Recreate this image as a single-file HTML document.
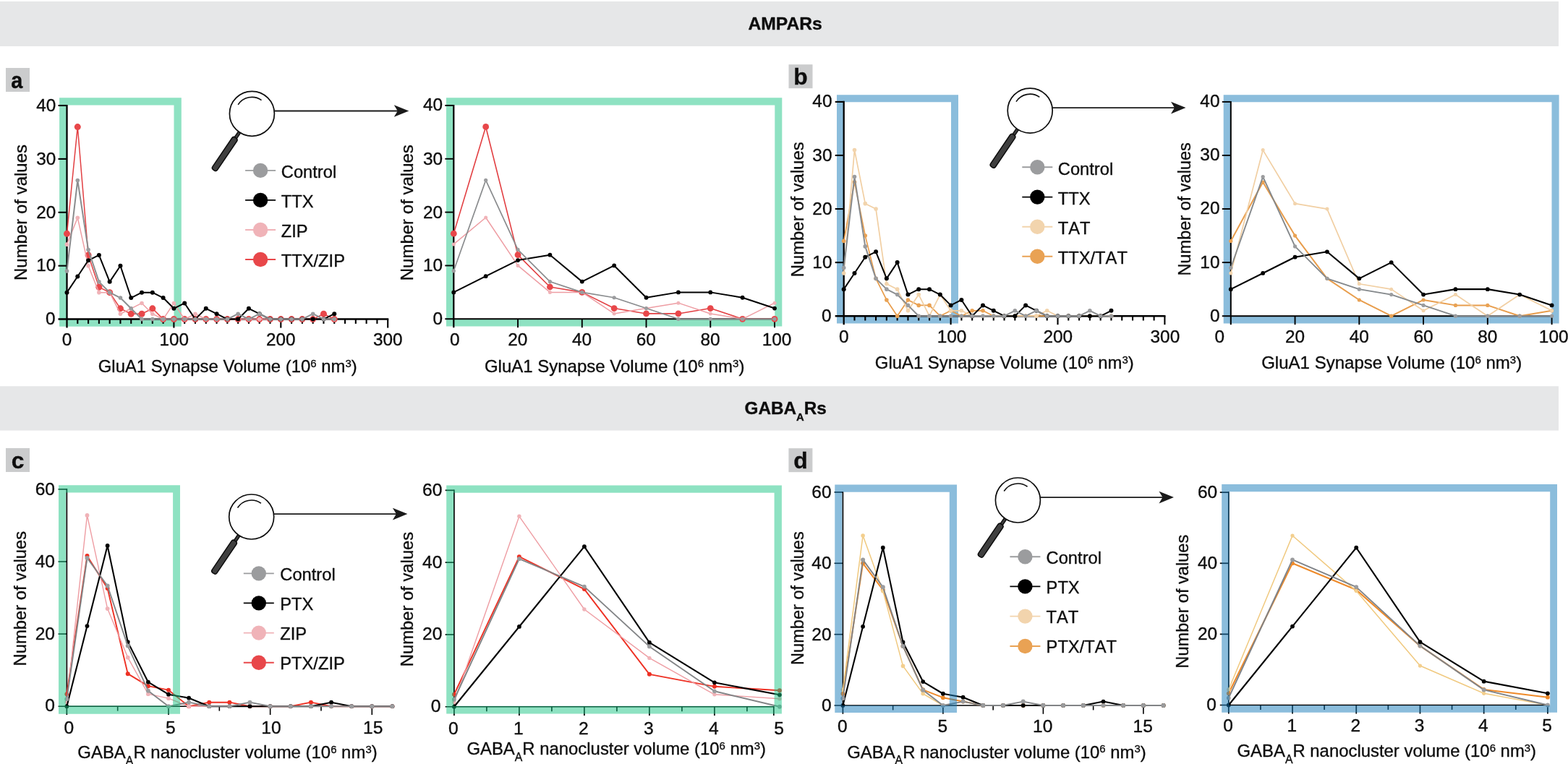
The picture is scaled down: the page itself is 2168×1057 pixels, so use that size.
<!DOCTYPE html>
<html lang="en">
<head>
<meta charset="utf-8">
<title>AMPARs and GABAARs volume distributions</title>
<style>
html,body{margin:0;padding:0;background:#fff;}
body{width:2168px;height:1057px;overflow:hidden;}
svg{display:block;font-family:'Liberation Sans', sans-serif;}
svg text{fill:#0d0d0d;stroke:#0d0d0d;stroke-width:0.35px;stroke-linejoin:round;}
</style>
</head>
<body>
<svg width="2168" height="1057" viewBox="0 0 2168 1057" font-family="'Liberation Sans', sans-serif">
<rect x="0" y="0" width="2168" height="1057" fill="#fff"/>
<rect x="0" y="2" width="2155" height="62" fill="#e6e7e8"/>
<rect x="0" y="534.3" width="2155" height="61.3" fill="#e6e7e8"/>
<text x="1085.6" y="41.4" font-size="24.7" font-weight="bold" text-anchor="middle" fill="#000">AMPARs</text>
<text x="1086.2" y="572.8" font-size="24.3" font-weight="bold" text-anchor="middle" fill="#000">GABA<tspan font-size="14.8" dy="8.7">A</tspan><tspan dy="-8.7">Rs</tspan></text>
<rect x="8" y="94" width="33" height="33" fill="#cbcccd"/>
<text transform="translate(23.4,121.8) scale(0.91,1)" font-size="31.8" font-weight="bold" text-anchor="middle" fill="#0a0a0a" stroke="#0a0a0a" stroke-width="0.3">a</text>
<rect x="1090.5" y="89.2" width="33" height="33" fill="#cbcccd"/>
<text transform="translate(1107,117) scale(1.0,1)" font-size="31.8" font-weight="bold" text-anchor="middle" fill="#0a0a0a" stroke="#0a0a0a" stroke-width="0.3">b</text>
<rect x="8" y="620" width="33" height="33" fill="#cbcccd"/>
<text transform="translate(24.5,647.8) scale(1.0,1)" font-size="31.8" font-weight="bold" text-anchor="middle" fill="#0a0a0a" stroke="#0a0a0a" stroke-width="0.3">c</text>
<rect x="1090.4" y="620.2" width="33" height="33" fill="#cbcccd"/>
<text transform="translate(1106.9,648) scale(1.0,1)" font-size="31.8" font-weight="bold" text-anchor="middle" fill="#0a0a0a" stroke="#0a0a0a" stroke-width="0.3">d</text>
<path d="M82.1,135.3H250.8V451.8H82.1ZM92,145.5V441.6H240.5V145.5Z" fill="#8ee2c2" fill-rule="evenodd"/>
<g stroke="#000"><line x1="92.5" y1="144.95" x2="92.5" y2="453.6" stroke-width="2.3"/><line x1="80.5" y1="441.6" x2="537.25" y2="441.6" stroke-width="2.5"/><line x1="80.5" y1="367.7" x2="92.5" y2="367.7" stroke-width="2.1"/><line x1="80.5" y1="293.8" x2="92.5" y2="293.8" stroke-width="2.1"/><line x1="80.5" y1="219.9" x2="92.5" y2="219.9" stroke-width="2.1"/><line x1="80.5" y1="146" x2="92.5" y2="146" stroke-width="2.1"/><line x1="240.4" y1="441.6" x2="240.4" y2="453.6" stroke-width="2.1"/><line x1="388.3" y1="441.6" x2="388.3" y2="453.6" stroke-width="2.1"/><line x1="536.2" y1="441.6" x2="536.2" y2="453.6" stroke-width="2.1"/><line x1="107.29" y1="441.6" x2="107.29" y2="447.9" stroke-width="2.1"/><line x1="122.08" y1="441.6" x2="122.08" y2="447.9" stroke-width="2.1"/><line x1="136.87" y1="441.6" x2="136.87" y2="447.9" stroke-width="2.1"/><line x1="151.66" y1="441.6" x2="151.66" y2="447.9" stroke-width="2.1"/><line x1="166.45" y1="441.6" x2="166.45" y2="447.9" stroke-width="2.1"/><line x1="181.24" y1="441.6" x2="181.24" y2="447.9" stroke-width="2.1"/><line x1="196.03" y1="441.6" x2="196.03" y2="447.9" stroke-width="2.1"/><line x1="210.82" y1="441.6" x2="210.82" y2="447.9" stroke-width="2.1"/><line x1="225.61" y1="441.6" x2="225.61" y2="447.9" stroke-width="2.1"/><line x1="255.19" y1="441.6" x2="255.19" y2="447.9" stroke-width="2.1"/><line x1="269.98" y1="441.6" x2="269.98" y2="447.9" stroke-width="2.1"/><line x1="284.77" y1="441.6" x2="284.77" y2="447.9" stroke-width="2.1"/><line x1="299.56" y1="441.6" x2="299.56" y2="447.9" stroke-width="2.1"/><line x1="314.35" y1="441.6" x2="314.35" y2="447.9" stroke-width="2.1"/><line x1="329.14" y1="441.6" x2="329.14" y2="447.9" stroke-width="2.1"/><line x1="343.93" y1="441.6" x2="343.93" y2="447.9" stroke-width="2.1"/><line x1="358.72" y1="441.6" x2="358.72" y2="447.9" stroke-width="2.1"/><line x1="373.51" y1="441.6" x2="373.51" y2="447.9" stroke-width="2.1"/><line x1="403.09" y1="441.6" x2="403.09" y2="447.9" stroke-width="2.1"/><line x1="417.88" y1="441.6" x2="417.88" y2="447.9" stroke-width="2.1"/><line x1="432.67" y1="441.6" x2="432.67" y2="447.9" stroke-width="2.1"/><line x1="447.46" y1="441.6" x2="447.46" y2="447.9" stroke-width="2.1"/><line x1="462.25" y1="441.6" x2="462.25" y2="447.9" stroke-width="2.1"/><line x1="477.04" y1="441.6" x2="477.04" y2="447.9" stroke-width="2.1"/><line x1="491.83" y1="441.6" x2="491.83" y2="447.9" stroke-width="2.1"/><line x1="506.62" y1="441.6" x2="506.62" y2="447.9" stroke-width="2.1"/><line x1="521.41" y1="441.6" x2="521.41" y2="447.9" stroke-width="2.1"/></g>
<polyline points="92.5,323.36 107.29,175.56 122.08,352.92 136.87,397.26 151.66,404.65 166.45,426.82 181.24,434.21 196.03,434.21 210.82,426.82 225.61,441.6 240.4,441.6 255.19,441.6 269.98,441.6 284.77,441.6 299.56,441.6 314.35,441.6 329.14,441.6 343.93,441.6 358.72,441.6 373.51,441.6 388.3,441.6 403.09,441.6 417.88,441.6 432.67,441.6 447.46,434.21 462.25,441.6" fill="none" stroke="#e23f42" stroke-width="1.5" stroke-linejoin="round"/>
<g fill="#e8474a"><circle cx="92.5" cy="323.36" r="4.5"/><circle cx="107.29" cy="175.56" r="4.5"/><circle cx="122.08" cy="352.92" r="4.5"/><circle cx="136.87" cy="397.26" r="4.5"/><circle cx="151.66" cy="404.65" r="4.5"/><circle cx="166.45" cy="426.82" r="4.5"/><circle cx="181.24" cy="434.21" r="4.5"/><circle cx="196.03" cy="434.21" r="4.5"/><circle cx="210.82" cy="426.82" r="4.5"/><circle cx="225.61" cy="441.6" r="4.5"/><circle cx="240.4" cy="441.6" r="4.5"/><circle cx="255.19" cy="441.6" r="4.5"/><circle cx="269.98" cy="441.6" r="4.5"/><circle cx="284.77" cy="441.6" r="4.5"/><circle cx="299.56" cy="441.6" r="4.5"/><circle cx="314.35" cy="441.6" r="4.5"/><circle cx="329.14" cy="441.6" r="4.5"/><circle cx="343.93" cy="441.6" r="4.5"/><circle cx="358.72" cy="441.6" r="4.5"/><circle cx="373.51" cy="441.6" r="4.5"/><circle cx="388.3" cy="441.6" r="4.5"/><circle cx="403.09" cy="441.6" r="4.5"/><circle cx="417.88" cy="441.6" r="4.5"/><circle cx="432.67" cy="441.6" r="4.5"/><circle cx="447.46" cy="434.21" r="4.5"/><circle cx="462.25" cy="441.6" r="4.5"/></g>
<polyline points="92.5,338.14 107.29,301.19 122.08,367.7 136.87,404.65 151.66,404.65 166.45,434.21 181.24,426.82 196.03,419.43 210.82,434.21 225.61,441.6 240.4,419.43 255.19,441.6 269.98,434.21 284.77,441.6 299.56,441.6 314.35,441.6 329.14,441.6 343.93,441.6 358.72,441.6 373.51,441.6 388.3,441.6 403.09,441.6 417.88,441.6 432.67,441.6 447.46,441.6 462.25,441.6" fill="none" stroke="#ee9da3" stroke-width="1.5" stroke-linejoin="round"/>
<g fill="#f0b3b8"><circle cx="92.5" cy="338.14" r="2.8"/><circle cx="107.29" cy="301.19" r="2.8"/><circle cx="122.08" cy="367.7" r="2.8"/><circle cx="136.87" cy="404.65" r="2.8"/><circle cx="151.66" cy="404.65" r="2.8"/><circle cx="166.45" cy="434.21" r="2.8"/><circle cx="181.24" cy="426.82" r="2.8"/><circle cx="196.03" cy="419.43" r="2.8"/><circle cx="210.82" cy="434.21" r="2.8"/><circle cx="225.61" cy="441.6" r="2.8"/><circle cx="240.4" cy="419.43" r="2.8"/><circle cx="255.19" cy="441.6" r="2.8"/><circle cx="269.98" cy="434.21" r="2.8"/><circle cx="284.77" cy="441.6" r="2.8"/><circle cx="299.56" cy="441.6" r="2.8"/><circle cx="314.35" cy="441.6" r="2.8"/><circle cx="329.14" cy="441.6" r="2.8"/><circle cx="343.93" cy="441.6" r="2.8"/><circle cx="358.72" cy="441.6" r="2.8"/><circle cx="373.51" cy="441.6" r="2.8"/><circle cx="388.3" cy="441.6" r="2.8"/><circle cx="403.09" cy="441.6" r="2.8"/><circle cx="417.88" cy="441.6" r="2.8"/><circle cx="432.67" cy="441.6" r="2.8"/><circle cx="447.46" cy="441.6" r="2.8"/><circle cx="462.25" cy="441.6" r="2.8"/></g>
<polyline points="92.5,404.65 107.29,382.48 122.08,360.31 136.87,352.92 151.66,389.87 166.45,367.7 181.24,412.04 196.03,404.65 210.82,404.65 225.61,412.04 240.4,426.82 255.19,419.43 269.98,441.6 284.77,426.82 299.56,434.21 314.35,441.6 329.14,441.6 343.93,426.82 358.72,434.21 373.51,441.6 388.3,441.6 403.09,441.6 417.88,441.6 432.67,441.6 447.46,441.6 462.25,434.21" fill="none" stroke="#000000" stroke-width="2.0" stroke-linejoin="round"/>
<g fill="#000000"><circle cx="92.5" cy="404.65" r="3.0"/><circle cx="107.29" cy="382.48" r="3.0"/><circle cx="122.08" cy="360.31" r="3.0"/><circle cx="136.87" cy="352.92" r="3.0"/><circle cx="151.66" cy="389.87" r="3.0"/><circle cx="166.45" cy="367.7" r="3.0"/><circle cx="181.24" cy="412.04" r="3.0"/><circle cx="196.03" cy="404.65" r="3.0"/><circle cx="210.82" cy="404.65" r="3.0"/><circle cx="225.61" cy="412.04" r="3.0"/><circle cx="240.4" cy="426.82" r="3.0"/><circle cx="255.19" cy="419.43" r="3.0"/><circle cx="269.98" cy="441.6" r="3.0"/><circle cx="284.77" cy="426.82" r="3.0"/><circle cx="299.56" cy="434.21" r="3.0"/><circle cx="314.35" cy="441.6" r="3.0"/><circle cx="329.14" cy="441.6" r="3.0"/><circle cx="343.93" cy="426.82" r="3.0"/><circle cx="358.72" cy="434.21" r="3.0"/><circle cx="373.51" cy="441.6" r="3.0"/><circle cx="388.3" cy="441.6" r="3.0"/><circle cx="403.09" cy="441.6" r="3.0"/><circle cx="417.88" cy="441.6" r="3.0"/><circle cx="432.67" cy="441.6" r="3.0"/><circle cx="447.46" cy="441.6" r="3.0"/><circle cx="462.25" cy="434.21" r="3.0"/></g>
<polyline points="92.5,375.09 107.29,249.46 122.08,345.53 136.87,389.87 151.66,404.65 166.45,412.04 181.24,426.82 196.03,441.6 210.82,441.6 225.61,441.6 240.4,441.6 255.19,441.6 269.98,441.6 284.77,441.6 299.56,441.6 314.35,441.6 329.14,434.21 343.93,441.6 358.72,434.21 373.51,441.6 388.3,441.6 403.09,441.6 417.88,441.6 432.67,434.21 447.46,441.6 462.25,441.6" fill="none" stroke="#8a8c8e" stroke-width="2.0" stroke-linejoin="round"/>
<g fill="#9b9c9e"><circle cx="92.5" cy="375.09" r="2.8"/><circle cx="107.29" cy="249.46" r="2.8"/><circle cx="122.08" cy="345.53" r="2.8"/><circle cx="136.87" cy="389.87" r="2.8"/><circle cx="151.66" cy="404.65" r="2.8"/><circle cx="166.45" cy="412.04" r="2.8"/><circle cx="181.24" cy="426.82" r="2.8"/><circle cx="196.03" cy="441.6" r="2.8"/><circle cx="210.82" cy="441.6" r="2.8"/><circle cx="225.61" cy="441.6" r="2.8"/><circle cx="240.4" cy="441.6" r="2.8"/><circle cx="255.19" cy="441.6" r="2.8"/><circle cx="269.98" cy="441.6" r="2.8"/><circle cx="284.77" cy="441.6" r="2.8"/><circle cx="299.56" cy="441.6" r="2.8"/><circle cx="314.35" cy="441.6" r="2.8"/><circle cx="329.14" cy="434.21" r="2.8"/><circle cx="343.93" cy="441.6" r="2.8"/><circle cx="358.72" cy="434.21" r="2.8"/><circle cx="373.51" cy="441.6" r="2.8"/><circle cx="388.3" cy="441.6" r="2.8"/><circle cx="403.09" cy="441.6" r="2.8"/><circle cx="417.88" cy="441.6" r="2.8"/><circle cx="432.67" cy="434.21" r="2.8"/><circle cx="447.46" cy="441.6" r="2.8"/><circle cx="462.25" cy="441.6" r="2.8"/></g>
<g font-size="24.3"><text x="76.4" y="449.3" text-anchor="end">0</text><text x="77.2" y="375.4" text-anchor="end">10</text><text x="77.2" y="301.5" text-anchor="end">20</text><text x="77.2" y="227.6" text-anchor="end">30</text><text x="77.2" y="153.7" text-anchor="end">40</text><text x="92.5" y="478.2" text-anchor="middle">0</text><text x="240.8" y="478.2" text-anchor="middle">100</text><text x="388.3" y="478.2" text-anchor="middle">200</text><text x="536.2" y="478.2" text-anchor="middle">300</text></g>
<text transform="translate(36.8,294) rotate(-90)" font-size="24" text-anchor="middle">Number of values</text>
<text x="314.7" y="515" font-size="23.9" text-anchor="middle">GluA1 Synapse Volume (10<tspan font-size="14.94" dy="-7.17">6</tspan><tspan dy="7.17"> nm</tspan><tspan font-size="14.94" dy="-7.17">3</tspan><tspan dy="7.17">)</tspan></text>
<g transform="translate(348.4,157.3) rotate(124.1)"><rect x="30" y="-1.9" width="11" height="3.8" fill="#3d3d3d" stroke="#0c0c0c" stroke-width="1.3"/><rect x="40.2" y="-4.05" width="54" height="8.1" rx="3.2" ry="3.2" fill="#3f3f3f" stroke="#0c0c0c" stroke-width="1.5"/></g>
<circle cx="348.4" cy="157.3" r="31" fill="#fff" stroke="#0c0c0c" stroke-width="1.7"/>
<path d="M329.19,144.83 A22.9,22.9 0 0 1 361.53,138.54" fill="none" stroke="#0c0c0c" stroke-width="1.6"/>
<line x1="379.4" y1="153.5" x2="551.3" y2="153.5" stroke="#1a1a1a" stroke-width="1.8"/>
<path d="M565.3,153.5 L544.8,145.2 L549.8,153.5 L544.8,161.8 Z" fill="#1a1a1a"/>
<line x1="339.1" y1="235.9" x2="381.1" y2="235.9" stroke="#9b9c9e" stroke-width="1.9"/>
<circle cx="360.1" cy="235.9" r="10.2" fill="#9b9c9e"/>
<text x="388.8" y="246.38" font-size="23.7" style="font-kerning:none">Control</text>
<line x1="339.1" y1="276.9" x2="381.1" y2="276.9" stroke="#000000" stroke-width="1.9"/>
<circle cx="360.1" cy="276.9" r="10.2" fill="#000000"/>
<text x="388.8" y="287.38" font-size="23.7" style="font-kerning:none">TTX</text>
<line x1="339.1" y1="318" x2="381.1" y2="318" stroke="#f0b3b8" stroke-width="1.9"/>
<circle cx="360.1" cy="318" r="10.2" fill="#f0b3b8"/>
<text x="388.8" y="328.48" font-size="23.7" style="font-kerning:none">ZIP</text>
<line x1="339.1" y1="359" x2="381.1" y2="359" stroke="#e8474a" stroke-width="1.9"/>
<circle cx="360.1" cy="359" r="10.2" fill="#e8474a"/>
<text x="388.8" y="369.48" font-size="23.7" style="font-kerning:none">TTX/ZIP</text>
<path d="M617,135.3H1081.3V451.6H617ZM627,145.5V441.2H1071.3V145.5Z" fill="#8ee2c2" fill-rule="evenodd"/>
<g stroke="#000"><line x1="627.3" y1="144.95" x2="627.3" y2="453.3" stroke-width="2.2"/><line x1="615.3" y1="441.3" x2="1071.95" y2="441.3" stroke-width="2.0"/><line x1="615.3" y1="367.45" x2="627.3" y2="367.45" stroke-width="1.9"/><line x1="615.3" y1="293.6" x2="627.3" y2="293.6" stroke-width="1.9"/><line x1="615.3" y1="219.75" x2="627.3" y2="219.75" stroke-width="1.9"/><line x1="615.3" y1="145.9" x2="627.3" y2="145.9" stroke-width="1.9"/><line x1="716.04" y1="441.3" x2="716.04" y2="453.3" stroke-width="1.9"/><line x1="804.78" y1="441.3" x2="804.78" y2="453.3" stroke-width="1.9"/><line x1="893.52" y1="441.3" x2="893.52" y2="453.3" stroke-width="1.9"/><line x1="982.26" y1="441.3" x2="982.26" y2="453.3" stroke-width="1.9"/><line x1="1071" y1="441.3" x2="1071" y2="453.3" stroke-width="1.9"/></g>
<polyline points="627.3,323.14 671.67,175.44 716.04,352.68 760.41,396.99 804.78,404.38 849.15,426.53 893.52,433.92 937.89,433.92 982.26,426.53 1026.63,441.3 1071,441.3" fill="none" stroke="#e23f42" stroke-width="1.6" stroke-linejoin="round"/>
<g fill="#e8474a"><circle cx="627.3" cy="323.14" r="4.4"/><circle cx="671.67" cy="175.44" r="4.4"/><circle cx="716.04" cy="352.68" r="4.4"/><circle cx="760.41" cy="396.99" r="4.4"/><circle cx="804.78" cy="404.38" r="4.4"/><circle cx="849.15" cy="426.53" r="4.4"/><circle cx="893.52" cy="433.92" r="4.4"/><circle cx="937.89" cy="433.92" r="4.4"/><circle cx="982.26" cy="426.53" r="4.4"/><circle cx="1026.63" cy="441.3" r="4.4"/><circle cx="1071" cy="441.3" r="4.4"/></g>
<polyline points="627.3,337.91 671.67,300.99 716.04,367.45 760.41,404.38 804.78,404.38 849.15,433.92 893.52,426.53 937.89,419.14 982.26,433.92 1026.63,441.3 1071,419.14" fill="none" stroke="#ee9da3" stroke-width="1.5" stroke-linejoin="round"/>
<g fill="#f0b3b8"><circle cx="627.3" cy="337.91" r="2.5"/><circle cx="671.67" cy="300.99" r="2.5"/><circle cx="716.04" cy="367.45" r="2.5"/><circle cx="760.41" cy="404.38" r="2.5"/><circle cx="804.78" cy="404.38" r="2.5"/><circle cx="849.15" cy="433.92" r="2.5"/><circle cx="893.52" cy="426.53" r="2.5"/><circle cx="937.89" cy="419.14" r="2.5"/><circle cx="982.26" cy="433.92" r="2.5"/><circle cx="1026.63" cy="441.3" r="2.5"/><circle cx="1071" cy="419.14" r="2.5"/></g>
<polyline points="627.3,404.38 671.67,382.22 716.04,360.06 760.41,352.68 804.78,389.61 849.15,367.45 893.52,411.76 937.89,404.38 982.26,404.38 1026.63,411.76 1071,426.53" fill="none" stroke="#000000" stroke-width="2.0" stroke-linejoin="round"/>
<g fill="#000000"><circle cx="627.3" cy="404.38" r="2.9"/><circle cx="671.67" cy="382.22" r="2.9"/><circle cx="716.04" cy="360.06" r="2.9"/><circle cx="760.41" cy="352.68" r="2.9"/><circle cx="804.78" cy="389.61" r="2.9"/><circle cx="849.15" cy="367.45" r="2.9"/><circle cx="893.52" cy="411.76" r="2.9"/><circle cx="937.89" cy="404.38" r="2.9"/><circle cx="982.26" cy="404.38" r="2.9"/><circle cx="1026.63" cy="411.76" r="2.9"/><circle cx="1071" cy="426.53" r="2.9"/></g>
<polyline points="627.3,374.84 671.67,249.29 716.04,345.3 760.41,389.61 804.78,404.38 849.15,411.76 893.52,426.53 937.89,441.3 982.26,441.3 1026.63,441.3 1071,441.3" fill="none" stroke="#8a8c8e" stroke-width="1.7" stroke-linejoin="round"/>
<g fill="#9b9c9e"><circle cx="627.3" cy="374.84" r="2.6"/><circle cx="671.67" cy="249.29" r="2.6"/><circle cx="716.04" cy="345.3" r="2.6"/><circle cx="760.41" cy="389.61" r="2.6"/><circle cx="804.78" cy="404.38" r="2.6"/><circle cx="849.15" cy="411.76" r="2.6"/><circle cx="893.52" cy="426.53" r="2.6"/><circle cx="937.89" cy="441.3" r="2.6"/><circle cx="982.26" cy="441.3" r="2.6"/><circle cx="1026.63" cy="441.3" r="2.6"/><circle cx="1071" cy="441.3" r="2.6"/></g>
<g font-size="24.4"><text x="612.2" y="449.24" text-anchor="end">0</text><text x="612.2" y="375.39" text-anchor="end">10</text><text x="612.2" y="301.54" text-anchor="end">20</text><text x="612.2" y="227.69" text-anchor="end">30</text><text x="612.2" y="152.84" text-anchor="end">40</text><text x="628.8" y="477.8" text-anchor="middle">0</text><text x="715.74" y="477.8" text-anchor="middle">20</text><text x="804.48" y="477.8" text-anchor="middle">40</text><text x="893.22" y="477.8" text-anchor="middle">60</text><text x="981.96" y="477.8" text-anchor="middle">80</text><text x="1074.1" y="477.8" text-anchor="middle">100</text></g>
<text transform="translate(571.4,294.2) rotate(-90)" font-size="24" text-anchor="middle">Number of values</text>
<text x="849.65" y="515" font-size="24.0" text-anchor="middle">GluA1 Synapse Volume (10<tspan font-size="15" dy="-7.2">6</tspan><tspan dy="7.2"> nm</tspan><tspan font-size="15" dy="-7.2">3</tspan><tspan dy="7.2">)</tspan></text>
<path d="M1157,131.2H1325V447.4H1157ZM1166.5,141.3V437.2H1315V141.3Z" fill="#8bbddc" fill-rule="evenodd"/>
<g stroke="#000"><line x1="1166.7" y1="139.85" x2="1166.7" y2="449.2" stroke-width="2.3"/><line x1="1154.7" y1="437.2" x2="1611.45" y2="437.2" stroke-width="2.4"/><line x1="1154.7" y1="363.12" x2="1166.7" y2="363.12" stroke-width="2.1"/><line x1="1154.7" y1="289.05" x2="1166.7" y2="289.05" stroke-width="2.1"/><line x1="1154.7" y1="214.97" x2="1166.7" y2="214.97" stroke-width="2.1"/><line x1="1154.7" y1="140.9" x2="1166.7" y2="140.9" stroke-width="2.1"/><line x1="1314.6" y1="437.2" x2="1314.6" y2="449.2" stroke-width="2.1"/><line x1="1462.5" y1="437.2" x2="1462.5" y2="449.2" stroke-width="2.1"/><line x1="1610.4" y1="437.2" x2="1610.4" y2="449.2" stroke-width="2.1"/><line x1="1181.49" y1="437.2" x2="1181.49" y2="443.5" stroke-width="2.1"/><line x1="1196.28" y1="437.2" x2="1196.28" y2="443.5" stroke-width="2.1"/><line x1="1211.07" y1="437.2" x2="1211.07" y2="443.5" stroke-width="2.1"/><line x1="1225.86" y1="437.2" x2="1225.86" y2="443.5" stroke-width="2.1"/><line x1="1240.65" y1="437.2" x2="1240.65" y2="443.5" stroke-width="2.1"/><line x1="1255.44" y1="437.2" x2="1255.44" y2="443.5" stroke-width="2.1"/><line x1="1270.23" y1="437.2" x2="1270.23" y2="443.5" stroke-width="2.1"/><line x1="1285.02" y1="437.2" x2="1285.02" y2="443.5" stroke-width="2.1"/><line x1="1299.81" y1="437.2" x2="1299.81" y2="443.5" stroke-width="2.1"/><line x1="1329.39" y1="437.2" x2="1329.39" y2="443.5" stroke-width="2.1"/><line x1="1344.18" y1="437.2" x2="1344.18" y2="443.5" stroke-width="2.1"/><line x1="1358.97" y1="437.2" x2="1358.97" y2="443.5" stroke-width="2.1"/><line x1="1373.76" y1="437.2" x2="1373.76" y2="443.5" stroke-width="2.1"/><line x1="1388.55" y1="437.2" x2="1388.55" y2="443.5" stroke-width="2.1"/><line x1="1403.34" y1="437.2" x2="1403.34" y2="443.5" stroke-width="2.1"/><line x1="1418.13" y1="437.2" x2="1418.13" y2="443.5" stroke-width="2.1"/><line x1="1432.92" y1="437.2" x2="1432.92" y2="443.5" stroke-width="2.1"/><line x1="1447.71" y1="437.2" x2="1447.71" y2="443.5" stroke-width="2.1"/><line x1="1477.29" y1="437.2" x2="1477.29" y2="443.5" stroke-width="2.1"/><line x1="1492.08" y1="437.2" x2="1492.08" y2="443.5" stroke-width="2.1"/><line x1="1506.87" y1="437.2" x2="1506.87" y2="443.5" stroke-width="2.1"/><line x1="1521.66" y1="437.2" x2="1521.66" y2="443.5" stroke-width="2.1"/><line x1="1536.45" y1="437.2" x2="1536.45" y2="443.5" stroke-width="2.1"/><line x1="1551.24" y1="437.2" x2="1551.24" y2="443.5" stroke-width="2.1"/><line x1="1566.03" y1="437.2" x2="1566.03" y2="443.5" stroke-width="2.1"/><line x1="1580.82" y1="437.2" x2="1580.82" y2="443.5" stroke-width="2.1"/><line x1="1595.61" y1="437.2" x2="1595.61" y2="443.5" stroke-width="2.1"/></g>
<polyline points="1166.7,333.5 1181.49,252.01 1196.28,326.09 1211.07,385.35 1225.86,414.98 1240.65,437.2 1255.44,414.98 1270.23,422.38 1285.02,422.38 1299.81,437.2 1314.6,429.79 1329.39,437.2 1344.18,429.79 1358.97,429.79 1373.76,437.2 1388.55,437.2 1403.34,437.2 1418.13,437.2 1432.92,437.2 1447.71,437.2 1462.5,437.2 1477.29,437.2 1492.08,437.2 1506.87,437.2 1521.66,437.2 1536.45,437.2" fill="none" stroke="#e89d4c" stroke-width="1.7" stroke-linejoin="round"/>
<g fill="#e9a254"><circle cx="1166.7" cy="333.5" r="2.8"/><circle cx="1181.49" cy="252.01" r="2.8"/><circle cx="1196.28" cy="326.09" r="2.8"/><circle cx="1211.07" cy="385.35" r="2.8"/><circle cx="1225.86" cy="414.98" r="2.8"/><circle cx="1240.65" cy="437.2" r="2.8"/><circle cx="1255.44" cy="414.98" r="2.8"/><circle cx="1270.23" cy="422.38" r="2.8"/><circle cx="1285.02" cy="422.38" r="2.8"/><circle cx="1299.81" cy="437.2" r="2.8"/><circle cx="1314.6" cy="429.79" r="2.8"/><circle cx="1329.39" cy="437.2" r="2.8"/><circle cx="1344.18" cy="429.79" r="2.8"/><circle cx="1358.97" cy="429.79" r="2.8"/><circle cx="1373.76" cy="437.2" r="2.8"/><circle cx="1388.55" cy="437.2" r="2.8"/><circle cx="1403.34" cy="437.2" r="2.8"/><circle cx="1418.13" cy="437.2" r="2.8"/><circle cx="1432.92" cy="437.2" r="2.8"/><circle cx="1447.71" cy="437.2" r="2.8"/><circle cx="1462.5" cy="437.2" r="2.8"/><circle cx="1477.29" cy="437.2" r="2.8"/><circle cx="1492.08" cy="437.2" r="2.8"/><circle cx="1506.87" cy="437.2" r="2.8"/><circle cx="1521.66" cy="437.2" r="2.8"/><circle cx="1536.45" cy="437.2" r="2.8"/></g>
<polyline points="1166.7,377.94 1181.49,207.57 1196.28,281.64 1211.07,289.05 1225.86,392.75 1240.65,400.16 1255.44,429.79 1270.23,407.57 1285.02,437.2 1299.81,407.57 1314.6,429.79 1329.39,429.79 1344.18,437.2 1358.97,437.2 1373.76,437.2 1388.55,437.2 1403.34,437.2 1418.13,437.2 1432.92,437.2 1447.71,429.79 1462.5,437.2 1477.29,437.2 1492.08,437.2 1506.87,437.2 1521.66,437.2 1536.45,437.2" fill="none" stroke="#f1cfa3" stroke-width="1.7" stroke-linejoin="round"/>
<g fill="#f2d4ad"><circle cx="1166.7" cy="377.94" r="2.8"/><circle cx="1181.49" cy="207.57" r="2.8"/><circle cx="1196.28" cy="281.64" r="2.8"/><circle cx="1211.07" cy="289.05" r="2.8"/><circle cx="1225.86" cy="392.75" r="2.8"/><circle cx="1240.65" cy="400.16" r="2.8"/><circle cx="1255.44" cy="429.79" r="2.8"/><circle cx="1270.23" cy="407.57" r="2.8"/><circle cx="1285.02" cy="437.2" r="2.8"/><circle cx="1299.81" cy="407.57" r="2.8"/><circle cx="1314.6" cy="429.79" r="2.8"/><circle cx="1329.39" cy="429.79" r="2.8"/><circle cx="1344.18" cy="437.2" r="2.8"/><circle cx="1358.97" cy="437.2" r="2.8"/><circle cx="1373.76" cy="437.2" r="2.8"/><circle cx="1388.55" cy="437.2" r="2.8"/><circle cx="1403.34" cy="437.2" r="2.8"/><circle cx="1418.13" cy="437.2" r="2.8"/><circle cx="1432.92" cy="437.2" r="2.8"/><circle cx="1447.71" cy="429.79" r="2.8"/><circle cx="1462.5" cy="437.2" r="2.8"/><circle cx="1477.29" cy="437.2" r="2.8"/><circle cx="1492.08" cy="437.2" r="2.8"/><circle cx="1506.87" cy="437.2" r="2.8"/><circle cx="1521.66" cy="437.2" r="2.8"/><circle cx="1536.45" cy="437.2" r="2.8"/></g>
<polyline points="1166.7,400.16 1181.49,377.94 1196.28,355.72 1211.07,348.31 1225.86,385.35 1240.65,363.12 1255.44,407.57 1270.23,400.16 1285.02,400.16 1299.81,407.57 1314.6,422.38 1329.39,414.98 1344.18,437.2 1358.97,422.38 1373.76,429.79 1388.55,437.2 1403.34,437.2 1418.13,422.38 1432.92,429.79 1447.71,437.2 1462.5,437.2 1477.29,437.2 1492.08,437.2 1506.87,437.2 1521.66,437.2 1536.45,429.79" fill="none" stroke="#000000" stroke-width="2.0" stroke-linejoin="round"/>
<g fill="#000000"><circle cx="1166.7" cy="400.16" r="3.0"/><circle cx="1181.49" cy="377.94" r="3.0"/><circle cx="1196.28" cy="355.72" r="3.0"/><circle cx="1211.07" cy="348.31" r="3.0"/><circle cx="1225.86" cy="385.35" r="3.0"/><circle cx="1240.65" cy="363.12" r="3.0"/><circle cx="1255.44" cy="407.57" r="3.0"/><circle cx="1270.23" cy="400.16" r="3.0"/><circle cx="1285.02" cy="400.16" r="3.0"/><circle cx="1299.81" cy="407.57" r="3.0"/><circle cx="1314.6" cy="422.38" r="3.0"/><circle cx="1329.39" cy="414.98" r="3.0"/><circle cx="1344.18" cy="437.2" r="3.0"/><circle cx="1358.97" cy="422.38" r="3.0"/><circle cx="1373.76" cy="429.79" r="3.0"/><circle cx="1388.55" cy="437.2" r="3.0"/><circle cx="1403.34" cy="437.2" r="3.0"/><circle cx="1418.13" cy="422.38" r="3.0"/><circle cx="1432.92" cy="429.79" r="3.0"/><circle cx="1447.71" cy="437.2" r="3.0"/><circle cx="1462.5" cy="437.2" r="3.0"/><circle cx="1477.29" cy="437.2" r="3.0"/><circle cx="1492.08" cy="437.2" r="3.0"/><circle cx="1506.87" cy="437.2" r="3.0"/><circle cx="1521.66" cy="437.2" r="3.0"/><circle cx="1536.45" cy="429.79" r="3.0"/></g>
<polyline points="1166.7,370.53 1181.49,244.6 1196.28,340.9 1211.07,385.35 1225.86,400.16 1240.65,407.57 1255.44,422.38 1270.23,437.2 1285.02,437.2 1299.81,437.2 1314.6,437.2 1329.39,437.2 1344.18,437.2 1358.97,437.2 1373.76,437.2 1388.55,437.2 1403.34,429.79 1418.13,437.2 1432.92,429.79 1447.71,437.2 1462.5,437.2 1477.29,437.2 1492.08,437.2 1506.87,429.79 1521.66,437.2 1536.45,437.2" fill="none" stroke="#8a8c8e" stroke-width="2.0" stroke-linejoin="round"/>
<g fill="#9b9c9e"><circle cx="1166.7" cy="370.53" r="2.8"/><circle cx="1181.49" cy="244.6" r="2.8"/><circle cx="1196.28" cy="340.9" r="2.8"/><circle cx="1211.07" cy="385.35" r="2.8"/><circle cx="1225.86" cy="400.16" r="2.8"/><circle cx="1240.65" cy="407.57" r="2.8"/><circle cx="1255.44" cy="422.38" r="2.8"/><circle cx="1270.23" cy="437.2" r="2.8"/><circle cx="1285.02" cy="437.2" r="2.8"/><circle cx="1299.81" cy="437.2" r="2.8"/><circle cx="1314.6" cy="437.2" r="2.8"/><circle cx="1329.39" cy="437.2" r="2.8"/><circle cx="1344.18" cy="437.2" r="2.8"/><circle cx="1358.97" cy="437.2" r="2.8"/><circle cx="1373.76" cy="437.2" r="2.8"/><circle cx="1388.55" cy="437.2" r="2.8"/><circle cx="1403.34" cy="429.79" r="2.8"/><circle cx="1418.13" cy="437.2" r="2.8"/><circle cx="1432.92" cy="429.79" r="2.8"/><circle cx="1447.71" cy="437.2" r="2.8"/><circle cx="1462.5" cy="437.2" r="2.8"/><circle cx="1477.29" cy="437.2" r="2.8"/><circle cx="1492.08" cy="437.2" r="2.8"/><circle cx="1506.87" cy="429.79" r="2.8"/><circle cx="1521.66" cy="437.2" r="2.8"/><circle cx="1536.45" cy="437.2" r="2.8"/></g>
<g font-size="24.4"><text x="1149.7" y="444.74" text-anchor="end">0</text><text x="1150.5" y="370.66" text-anchor="end">10</text><text x="1150.5" y="296.59" text-anchor="end">20</text><text x="1150.5" y="222.51" text-anchor="end">30</text><text x="1150.5" y="148.44" text-anchor="end">40</text><text x="1166.7" y="474.4" text-anchor="middle">0</text><text x="1316.1" y="474.4" text-anchor="middle">100</text><text x="1462.8" y="474.4" text-anchor="middle">200</text><text x="1610.9" y="474.4" text-anchor="middle">300</text></g>
<text transform="translate(1111.1,289.8) rotate(-90)" font-size="23.85" text-anchor="middle">Number of values</text>
<text x="1388.8" y="510" font-size="23.9" text-anchor="middle">GluA1 Synapse Volume (10<tspan font-size="14.94" dy="-7.17">6</tspan><tspan dy="7.17"> nm</tspan><tspan font-size="14.94" dy="-7.17">3</tspan><tspan dy="7.17">)</tspan></text>
<g transform="translate(1424.2,153.1) rotate(124.1)"><rect x="30" y="-1.9" width="11" height="3.8" fill="#3d3d3d" stroke="#0c0c0c" stroke-width="1.3"/><rect x="40.2" y="-4.05" width="54" height="8.1" rx="3.2" ry="3.2" fill="#3f3f3f" stroke="#0c0c0c" stroke-width="1.5"/></g>
<circle cx="1424.2" cy="153.1" r="31" fill="#fff" stroke="#0c0c0c" stroke-width="1.7"/>
<path d="M1404.99,140.63 A22.9,22.9 0 0 1 1437.33,134.34" fill="none" stroke="#0c0c0c" stroke-width="1.6"/>
<line x1="1455.2" y1="149.1" x2="1625.5" y2="149.1" stroke="#1a1a1a" stroke-width="1.8"/>
<path d="M1639.5,149.1 L1619,140.8 L1624,149.1 L1619,157.4 Z" fill="#1a1a1a"/>
<line x1="1413.3" y1="231.3" x2="1455.3" y2="231.3" stroke="#9b9c9e" stroke-width="1.9"/>
<circle cx="1434.3" cy="231.3" r="10.2" fill="#9b9c9e"/>
<text x="1462.8" y="241.78" font-size="23.7" style="font-kerning:none">Control</text>
<line x1="1413.3" y1="272.6" x2="1455.3" y2="272.6" stroke="#000000" stroke-width="1.9"/>
<circle cx="1434.3" cy="272.6" r="10.2" fill="#000000"/>
<text x="1462.8" y="283.08" font-size="23.7" style="font-kerning:none">TTX</text>
<line x1="1413.3" y1="313.8" x2="1455.3" y2="313.8" stroke="#f2d4ad" stroke-width="1.9"/>
<circle cx="1434.3" cy="313.8" r="10.2" fill="#f2d4ad"/>
<text x="1462.8" y="324.28" font-size="23.7" style="font-kerning:none">TAT</text>
<line x1="1413.3" y1="354.7" x2="1455.3" y2="354.7" stroke="#e9a254" stroke-width="1.9"/>
<circle cx="1434.3" cy="354.7" r="10.2" fill="#e9a254"/>
<text x="1462.8" y="365.18" font-size="23.7" style="font-kerning:none">TTX/TAT</text>
<path d="M1691.7,131.2H2155.6V447.4H1691.7ZM1701.7,141.3V437.2H2145.5V141.3Z" fill="#8bbddc" fill-rule="evenodd"/>
<g stroke="#000"><line x1="1701.8" y1="139.95" x2="1701.8" y2="449.2" stroke-width="2.0"/><line x1="1689.8" y1="437.2" x2="2146.55" y2="437.2" stroke-width="2.1"/><line x1="1689.8" y1="363.12" x2="1701.8" y2="363.12" stroke-width="1.9"/><line x1="1689.8" y1="289.05" x2="1701.8" y2="289.05" stroke-width="1.9"/><line x1="1689.8" y1="214.97" x2="1701.8" y2="214.97" stroke-width="1.9"/><line x1="1689.8" y1="140.9" x2="1701.8" y2="140.9" stroke-width="1.9"/><line x1="1790.56" y1="437.2" x2="1790.56" y2="449.2" stroke-width="1.9"/><line x1="1879.32" y1="437.2" x2="1879.32" y2="449.2" stroke-width="1.9"/><line x1="1968.08" y1="437.2" x2="1968.08" y2="449.2" stroke-width="1.9"/><line x1="2056.84" y1="437.2" x2="2056.84" y2="449.2" stroke-width="1.9"/><line x1="2145.6" y1="437.2" x2="2145.6" y2="449.2" stroke-width="1.9"/></g>
<polyline points="1701.8,333.5 1746.18,252.01 1790.56,326.09 1834.94,385.35 1879.32,414.98 1923.7,437.2 1968.08,414.98 2012.46,422.38 2056.84,422.38 2101.22,437.2 2145.6,429.79" fill="none" stroke="#e89d4c" stroke-width="2.0" stroke-linejoin="round"/>
<g fill="#e9a254"><circle cx="1701.8" cy="333.5" r="2.6"/><circle cx="1746.18" cy="252.01" r="2.6"/><circle cx="1790.56" cy="326.09" r="2.6"/><circle cx="1834.94" cy="385.35" r="2.6"/><circle cx="1879.32" cy="414.98" r="2.6"/><circle cx="1923.7" cy="437.2" r="2.6"/><circle cx="1968.08" cy="414.98" r="2.6"/><circle cx="2012.46" cy="422.38" r="2.6"/><circle cx="2056.84" cy="422.38" r="2.6"/><circle cx="2101.22" cy="437.2" r="2.6"/><circle cx="2145.6" cy="429.79" r="2.6"/></g>
<polyline points="1701.8,377.94 1746.18,207.57 1790.56,281.64 1834.94,289.05 1879.32,392.75 1923.7,400.16 1968.08,429.79 2012.46,407.57 2056.84,437.2 2101.22,407.57 2145.6,429.79" fill="none" stroke="#f1cfa3" stroke-width="1.7" stroke-linejoin="round"/>
<g fill="#f2d4ad"><circle cx="1701.8" cy="377.94" r="2.5"/><circle cx="1746.18" cy="207.57" r="2.5"/><circle cx="1790.56" cy="281.64" r="2.5"/><circle cx="1834.94" cy="289.05" r="2.5"/><circle cx="1879.32" cy="392.75" r="2.5"/><circle cx="1923.7" cy="400.16" r="2.5"/><circle cx="1968.08" cy="429.79" r="2.5"/><circle cx="2012.46" cy="407.57" r="2.5"/><circle cx="2056.84" cy="437.2" r="2.5"/><circle cx="2101.22" cy="407.57" r="2.5"/><circle cx="2145.6" cy="429.79" r="2.5"/></g>
<polyline points="1701.8,400.16 1746.18,377.94 1790.56,355.72 1834.94,348.31 1879.32,385.35 1923.7,363.12 1968.08,407.57 2012.46,400.16 2056.84,400.16 2101.22,407.57 2145.6,422.38" fill="none" stroke="#000000" stroke-width="2.1" stroke-linejoin="round"/>
<g fill="#000000"><circle cx="1701.8" cy="400.16" r="2.9"/><circle cx="1746.18" cy="377.94" r="2.9"/><circle cx="1790.56" cy="355.72" r="2.9"/><circle cx="1834.94" cy="348.31" r="2.9"/><circle cx="1879.32" cy="385.35" r="2.9"/><circle cx="1923.7" cy="363.12" r="2.9"/><circle cx="1968.08" cy="407.57" r="2.9"/><circle cx="2012.46" cy="400.16" r="2.9"/><circle cx="2056.84" cy="400.16" r="2.9"/><circle cx="2101.22" cy="407.57" r="2.9"/><circle cx="2145.6" cy="422.38" r="2.9"/></g>
<polyline points="1701.8,370.53 1746.18,244.6 1790.56,340.9 1834.94,385.35 1879.32,400.16 1923.7,407.57 1968.08,422.38 2012.46,437.2 2056.84,437.2 2101.22,437.2 2145.6,437.2" fill="none" stroke="#84888b" stroke-width="1.9" stroke-linejoin="round"/>
<g fill="#9b9c9e"><circle cx="1701.8" cy="370.53" r="2.6"/><circle cx="1746.18" cy="244.6" r="2.6"/><circle cx="1790.56" cy="340.9" r="2.6"/><circle cx="1834.94" cy="385.35" r="2.6"/><circle cx="1879.32" cy="400.16" r="2.6"/><circle cx="1923.7" cy="407.57" r="2.6"/><circle cx="1968.08" cy="422.38" r="2.6"/><circle cx="2012.46" cy="437.2" r="2.6"/><circle cx="2056.84" cy="437.2" r="2.6"/><circle cx="2101.22" cy="437.2" r="2.6"/><circle cx="2145.6" cy="437.2" r="2.6"/></g>
<g font-size="24.4"><text x="1686.5" y="444.64" text-anchor="end">0</text><text x="1686.5" y="370.56" text-anchor="end">10</text><text x="1686.5" y="296.49" text-anchor="end">20</text><text x="1686.5" y="222.41" text-anchor="end">30</text><text x="1686.5" y="148.34" text-anchor="end">40</text><text x="1686.4" y="474.4" text-anchor="middle">0</text><text x="1790.56" y="474.4" text-anchor="middle">20</text><text x="1879.32" y="474.4" text-anchor="middle">40</text><text x="1968.08" y="474.4" text-anchor="middle">60</text><text x="2056.84" y="474.4" text-anchor="middle">80</text><text x="2148.2" y="474.4" text-anchor="middle">100</text></g>
<text transform="translate(1645.8,289.3) rotate(-90)" font-size="23.5" text-anchor="middle">Number of values</text>
<text x="1924.2" y="510" font-size="24.04" text-anchor="middle">GluA1 Synapse Volume (10<tspan font-size="15.02" dy="-7.21">6</tspan><tspan dy="7.21"> nm</tspan><tspan font-size="15.02" dy="-7.21">3</tspan><tspan dy="7.21">)</tspan></text>
<g stroke="#000"><line x1="92.35" y1="676.1" x2="92.35" y2="989" stroke-width="1.7"/><line x1="80.55" y1="977.2" x2="543.23" y2="977.2" stroke-width="1.6"/><line x1="80.55" y1="877.1" x2="92.35" y2="877.1" stroke-width="1.6"/><line x1="80.55" y1="777" x2="92.35" y2="777" stroke-width="1.6"/><line x1="80.55" y1="676.9" x2="92.35" y2="676.9" stroke-width="1.6"/><line x1="233" y1="977.2" x2="233" y2="989" stroke-width="1.6"/><line x1="373.65" y1="977.2" x2="373.65" y2="989" stroke-width="1.6"/><line x1="514.3" y1="977.2" x2="514.3" y2="989" stroke-width="1.6"/><line x1="162.68" y1="977.2" x2="162.68" y2="983.6" stroke-width="1.6"/><line x1="303.32" y1="977.2" x2="303.32" y2="983.6" stroke-width="1.6"/><line x1="443.98" y1="977.2" x2="443.98" y2="983.6" stroke-width="1.6"/></g>
<polyline points="92.35,960.18 120.48,768.99 148.61,814.04 176.74,932.16 204.87,949.17 233,954.68 261.13,977.2 289.26,971.69 317.39,971.69 345.52,977.2 373.65,977.2 401.78,977.2 429.91,971.69 458.04,977.2 486.17,977.2 514.3,977.2 542.43,977.2" fill="none" stroke="#ee3124" stroke-width="1.9" stroke-linejoin="round"/>
<g fill="#ee3124"><circle cx="92.35" cy="960.18" r="3.0"/><circle cx="120.48" cy="768.99" r="3.0"/><circle cx="148.61" cy="814.04" r="3.0"/><circle cx="176.74" cy="932.16" r="3.0"/><circle cx="204.87" cy="949.17" r="3.0"/><circle cx="233" cy="954.68" r="3.0"/><circle cx="261.13" cy="977.2" r="3.0"/><circle cx="289.26" cy="971.69" r="3.0"/><circle cx="317.39" cy="971.69" r="3.0"/><circle cx="345.52" cy="977.2" r="3.0"/><circle cx="373.65" cy="977.2" r="3.0"/><circle cx="401.78" cy="977.2" r="3.0"/><circle cx="429.91" cy="971.69" r="3.0"/><circle cx="458.04" cy="977.2" r="3.0"/><circle cx="486.17" cy="977.2" r="3.0"/><circle cx="514.3" cy="977.2" r="3.0"/><circle cx="542.43" cy="977.2" r="3.0"/></g>
<polyline points="92.35,971.19 120.48,712.94 148.61,842.07 176.74,909.63 204.87,960.18 233,966.19 261.13,977.2 289.26,977.2 317.39,977.2 345.52,977.2 373.65,977.2 401.78,977.2 429.91,977.2 458.04,977.2 486.17,977.2 514.3,977.2 542.43,977.2" fill="none" stroke="#ee9da3" stroke-width="1.4" stroke-linejoin="round"/>
<g fill="#f0b3b8"><circle cx="92.35" cy="971.19" r="2.9"/><circle cx="120.48" cy="712.94" r="2.9"/><circle cx="148.61" cy="842.07" r="2.9"/><circle cx="176.74" cy="909.63" r="2.9"/><circle cx="204.87" cy="960.18" r="2.9"/><circle cx="233" cy="966.19" r="2.9"/><circle cx="261.13" cy="977.2" r="2.9"/><circle cx="289.26" cy="977.2" r="2.9"/><circle cx="317.39" cy="977.2" r="2.9"/><circle cx="345.52" cy="977.2" r="2.9"/><circle cx="373.65" cy="977.2" r="2.9"/><circle cx="401.78" cy="977.2" r="2.9"/><circle cx="429.91" cy="977.2" r="2.9"/><circle cx="458.04" cy="977.2" r="2.9"/><circle cx="486.17" cy="977.2" r="2.9"/><circle cx="514.3" cy="977.2" r="2.9"/><circle cx="542.43" cy="977.2" r="2.9"/></g>
<polyline points="92.35,977.2 120.48,866.09 148.61,754.98 176.74,888.11 204.87,943.67 233,960.68 261.13,965.69 289.26,977.2 317.39,977.2 345.52,977.2 373.65,977.2 401.78,977.2 429.91,977.2 458.04,971.69 486.17,977.2 514.3,977.2 542.43,977.2" fill="none" stroke="#000000" stroke-width="2.1" stroke-linejoin="round"/>
<g fill="#000000"><circle cx="92.35" cy="977.2" r="2.9"/><circle cx="120.48" cy="866.09" r="2.9"/><circle cx="148.61" cy="754.98" r="2.9"/><circle cx="176.74" cy="888.11" r="2.9"/><circle cx="204.87" cy="943.67" r="2.9"/><circle cx="233" cy="960.68" r="2.9"/><circle cx="261.13" cy="965.69" r="2.9"/><circle cx="289.26" cy="977.2" r="2.9"/><circle cx="317.39" cy="977.2" r="2.9"/><circle cx="345.52" cy="977.2" r="2.9"/><circle cx="373.65" cy="977.2" r="2.9"/><circle cx="401.78" cy="977.2" r="2.9"/><circle cx="429.91" cy="977.2" r="2.9"/><circle cx="458.04" cy="971.69" r="2.9"/><circle cx="486.17" cy="977.2" r="2.9"/><circle cx="514.3" cy="977.2" r="2.9"/><circle cx="542.43" cy="977.2" r="2.9"/></g>
<polyline points="92.35,967.19 120.48,772 148.61,810.53 176.74,893.62 204.87,955.68 233,977.2 261.13,971.69 289.26,977.2 317.39,977.2 345.52,971.69 373.65,977.2 401.78,977.2 429.91,977.2 458.04,977.2 486.17,977.2 514.3,977.2 542.43,977.2" fill="none" stroke="#828486" stroke-width="1.9" stroke-linejoin="round"/>
<g fill="#9b9c9e"><circle cx="92.35" cy="967.19" r="3.0"/><circle cx="120.48" cy="772" r="3.0"/><circle cx="148.61" cy="810.53" r="3.0"/><circle cx="176.74" cy="893.62" r="3.0"/><circle cx="204.87" cy="955.68" r="3.0"/><circle cx="233" cy="977.2" r="3.0"/><circle cx="261.13" cy="971.69" r="3.0"/><circle cx="289.26" cy="977.2" r="3.0"/><circle cx="317.39" cy="977.2" r="3.0"/><circle cx="345.52" cy="971.69" r="3.0"/><circle cx="373.65" cy="977.2" r="3.0"/><circle cx="401.78" cy="977.2" r="3.0"/><circle cx="429.91" cy="977.2" r="3.0"/><circle cx="458.04" cy="977.2" r="3.0"/><circle cx="486.17" cy="977.2" r="3.0"/><circle cx="514.3" cy="977.2" r="3.0"/><circle cx="542.43" cy="977.2" r="3.0"/></g>
<path d="M81,671.2H249V987.7H81ZM91,681.5V976.3H239.1V681.5Z" fill="rgba(29,197,133,0.5)" fill-rule="evenodd"/>
<g font-size="24.6"><text x="76" y="984.31" text-anchor="end">0</text><text x="76" y="884.91" text-anchor="end">20</text><text x="76" y="784.81" text-anchor="end">40</text><text x="76" y="684.71" text-anchor="end">60</text><text x="95.25" y="1014.8" text-anchor="middle">0</text><text x="235.9" y="1014.8" text-anchor="middle">5</text><text x="375.05" y="1014.8" text-anchor="middle">10</text><text x="515.7" y="1014.8" text-anchor="middle">15</text></g>
<text transform="translate(36,828.2) rotate(-90)" font-size="23.8" text-anchor="middle">Number of values</text>
<text x="314.5" y="1049" font-size="23.94" text-anchor="middle">GABA<tspan font-size="15.8" dy="8.86">A</tspan><tspan dy="-8.86">R nanocluster volume (10</tspan><tspan font-size="14.96" dy="-6.82">6</tspan><tspan dy="6.82"> nm</tspan><tspan font-size="14.96" dy="-6.82">3</tspan><tspan dy="6.82">)</tspan></text>
<g transform="translate(347.7,715) rotate(124.1)"><rect x="30" y="-1.9" width="11" height="3.8" fill="#3d3d3d" stroke="#0c0c0c" stroke-width="1.3"/><rect x="40.2" y="-4.05" width="54" height="8.1" rx="3.2" ry="3.2" fill="#3f3f3f" stroke="#0c0c0c" stroke-width="1.5"/></g>
<circle cx="347.7" cy="715" r="31" fill="#fff" stroke="#0c0c0c" stroke-width="1.7"/>
<path d="M328.49,702.53 A22.9,22.9 0 0 1 360.83,696.24" fill="none" stroke="#0c0c0c" stroke-width="1.6"/>
<line x1="378.7" y1="711.1" x2="549.4" y2="711.1" stroke="#1a1a1a" stroke-width="1.8"/>
<path d="M563.4,711.1 L542.9,702.8 L547.9,711.1 L542.9,719.4 Z" fill="#1a1a1a"/>
<line x1="336.8" y1="793.4" x2="378.8" y2="793.4" stroke="#9b9c9e" stroke-width="1.9"/>
<circle cx="357.8" cy="793.4" r="10.2" fill="#9b9c9e"/>
<text x="387.3" y="803.08" font-size="23.7" style="font-kerning:none">Control</text>
<line x1="336.8" y1="834.4" x2="378.8" y2="834.4" stroke="#000000" stroke-width="1.9"/>
<circle cx="357.8" cy="834.4" r="10.2" fill="#000000"/>
<text x="387.3" y="844.08" font-size="23.7" style="font-kerning:none">PTX</text>
<line x1="336.8" y1="875.6" x2="378.8" y2="875.6" stroke="#f0b3b8" stroke-width="1.9"/>
<circle cx="357.8" cy="875.6" r="10.2" fill="#f0b3b8"/>
<text x="387.3" y="885.28" font-size="23.7" style="font-kerning:none">ZIP</text>
<line x1="336.8" y1="916.8" x2="378.8" y2="916.8" stroke="#e8474a" stroke-width="1.9"/>
<circle cx="357.8" cy="916.8" r="10.2" fill="#e8474a"/>
<text x="387.3" y="926.48" font-size="23.7" style="font-kerning:none">PTX/ZIP</text>
<g stroke="#000"><line x1="627.9" y1="677.5" x2="627.9" y2="989.95" stroke-width="1.7"/><line x1="615.7" y1="977.75" x2="1070.6" y2="977.75" stroke-width="1.7"/><line x1="615.7" y1="877.95" x2="627.9" y2="877.95" stroke-width="1.7"/><line x1="615.7" y1="778.15" x2="627.9" y2="778.15" stroke-width="1.7"/><line x1="615.7" y1="678.35" x2="627.9" y2="678.35" stroke-width="1.7"/><line x1="717.9" y1="977.75" x2="717.9" y2="989.95" stroke-width="1.7"/><line x1="807.9" y1="977.75" x2="807.9" y2="989.95" stroke-width="1.7"/><line x1="897.9" y1="977.75" x2="897.9" y2="989.95" stroke-width="1.7"/><line x1="987.9" y1="977.75" x2="987.9" y2="989.95" stroke-width="1.7"/><line x1="1069.8" y1="977.75" x2="1069.8" y2="989.95" stroke-width="1.7"/><line x1="672.9" y1="977.75" x2="672.9" y2="984.15" stroke-width="1.7"/><line x1="762.9" y1="977.75" x2="762.9" y2="984.15" stroke-width="1.7"/><line x1="852.9" y1="977.75" x2="852.9" y2="984.15" stroke-width="1.7"/><line x1="942.9" y1="977.75" x2="942.9" y2="984.15" stroke-width="1.7"/><line x1="1032.9" y1="977.75" x2="1032.9" y2="984.15" stroke-width="1.7"/></g>
<polyline points="627.9,960.78 717.9,770.17 807.9,815.08 897.9,932.84 987.9,949.81 1077.9,955.29" fill="none" stroke="#ee3124" stroke-width="1.9" stroke-linejoin="round"/>
<g fill="#ee3124"><circle cx="627.9" cy="960.78" r="3.0"/><circle cx="717.9" cy="770.17" r="3.0"/><circle cx="807.9" cy="815.08" r="3.0"/><circle cx="897.9" cy="932.84" r="3.0"/><circle cx="987.9" cy="949.81" r="3.0"/><circle cx="1077.9" cy="955.29" r="3.0"/></g>
<polyline points="627.9,971.76 717.9,714.28 807.9,843.02 897.9,910.38 987.9,960.78 1077.9,966.77" fill="none" stroke="#ee9da3" stroke-width="1.4" stroke-linejoin="round"/>
<g fill="#f0b3b8"><circle cx="627.9" cy="971.76" r="2.7"/><circle cx="717.9" cy="714.28" r="2.7"/><circle cx="807.9" cy="843.02" r="2.7"/><circle cx="897.9" cy="910.38" r="2.7"/><circle cx="987.9" cy="960.78" r="2.7"/><circle cx="1077.9" cy="966.77" r="2.7"/></g>
<polyline points="627.9,977.75 717.9,866.97 807.9,756.19 897.9,888.93 987.9,944.32 1077.9,961.28" fill="none" stroke="#000000" stroke-width="2.1" stroke-linejoin="round"/>
<g fill="#000000"><circle cx="627.9" cy="977.75" r="2.9"/><circle cx="717.9" cy="866.97" r="2.9"/><circle cx="807.9" cy="756.19" r="2.9"/><circle cx="897.9" cy="888.93" r="2.9"/><circle cx="987.9" cy="944.32" r="2.9"/><circle cx="1077.9" cy="961.28" r="2.9"/></g>
<polyline points="627.9,967.77 717.9,773.16 807.9,811.58 897.9,894.42 987.9,956.29 1077.9,977.75" fill="none" stroke="#828486" stroke-width="1.9" stroke-linejoin="round"/>
<g fill="#9b9c9e"><circle cx="627.9" cy="967.77" r="2.9"/><circle cx="717.9" cy="773.16" r="2.9"/><circle cx="807.9" cy="811.58" r="2.9"/><circle cx="897.9" cy="894.42" r="2.9"/><circle cx="987.9" cy="956.29" r="2.9"/><circle cx="1077.9" cy="977.75" r="2.9"/></g>
<path d="M617.2,671.6H1080.9V987.4H617.2ZM627.2,681.8V976.8H1070.6V681.8Z" fill="rgba(29,197,133,0.5)" fill-rule="evenodd"/>
<g font-size="24.7"><text x="609.5" y="985.19" text-anchor="end">0</text><text x="611.5" y="885.39" text-anchor="end">20</text><text x="611.5" y="785.59" text-anchor="end">40</text><text x="611.5" y="685.79" text-anchor="end">60</text><text x="626.9" y="1016.4" text-anchor="middle">0</text><text x="716.9" y="1016.4" text-anchor="middle">1</text><text x="806.9" y="1016.4" text-anchor="middle">2</text><text x="896.9" y="1016.4" text-anchor="middle">3</text><text x="986.9" y="1016.4" text-anchor="middle">4</text><text x="1077" y="1016.4" text-anchor="middle">5</text></g>
<text transform="translate(571.3,829) rotate(-90)" font-size="23.8" text-anchor="middle">Number of values</text>
<text x="852.2" y="1044" font-size="23.9" text-anchor="middle">GABA<tspan font-size="15.77" dy="8.84">A</tspan><tspan dy="-8.84">R nanocluster volume (10</tspan><tspan font-size="14.94" dy="-7.17">6</tspan><tspan dy="7.17"> nm</tspan><tspan font-size="14.94" dy="-7.17">3</tspan><tspan dy="7.17">)</tspan></text>
<g stroke="#000"><line x1="1165.4" y1="680.18" x2="1165.4" y2="987.8" stroke-width="1.7"/><line x1="1153.6" y1="976" x2="1609.4" y2="976" stroke-width="1.6"/><line x1="1153.6" y1="877.66" x2="1165.4" y2="877.66" stroke-width="1.6"/><line x1="1153.6" y1="779.32" x2="1165.4" y2="779.32" stroke-width="1.6"/><line x1="1153.6" y1="680.98" x2="1165.4" y2="680.98" stroke-width="1.6"/><line x1="1303.9" y1="976" x2="1303.9" y2="987.8" stroke-width="1.6"/><line x1="1442.4" y1="976" x2="1442.4" y2="987.8" stroke-width="1.6"/><line x1="1580.9" y1="976" x2="1580.9" y2="987.8" stroke-width="1.6"/><line x1="1234.65" y1="976" x2="1234.65" y2="982.4" stroke-width="1.6"/><line x1="1373.15" y1="976" x2="1373.15" y2="982.4" stroke-width="1.6"/><line x1="1511.65" y1="976" x2="1511.65" y2="982.4" stroke-width="1.6"/></g>
<polyline points="1165.4,959.77 1193.1,779.32 1220.8,816.2 1248.5,893.89 1276.2,954.37 1303.9,965.18 1331.6,970.59 1359.3,976 1387,976 1414.7,976 1442.4,976 1470.1,976 1497.8,976 1525.5,976 1553.2,976 1580.9,976 1608.6,976" fill="none" stroke="#ee8a2a" stroke-width="2.0" stroke-linejoin="round"/>
<g fill="#ee8a2a"><circle cx="1165.4" cy="959.77" r="3.0"/><circle cx="1193.1" cy="779.32" r="3.0"/><circle cx="1220.8" cy="816.2" r="3.0"/><circle cx="1248.5" cy="893.89" r="3.0"/><circle cx="1276.2" cy="954.37" r="3.0"/><circle cx="1303.9" cy="965.18" r="3.0"/><circle cx="1331.6" cy="970.59" r="3.0"/><circle cx="1359.3" cy="976" r="3.0"/><circle cx="1387" cy="976" r="3.0"/><circle cx="1414.7" cy="976" r="3.0"/><circle cx="1442.4" cy="976" r="3.0"/><circle cx="1470.1" cy="976" r="3.0"/><circle cx="1497.8" cy="976" r="3.0"/><circle cx="1525.5" cy="976" r="3.0"/><circle cx="1553.2" cy="976" r="3.0"/><circle cx="1580.9" cy="976" r="3.0"/><circle cx="1608.6" cy="976" r="3.0"/></g>
<polyline points="1165.4,954.37 1193.1,740.97 1220.8,817.67 1248.5,921.42 1276.2,959.77 1303.9,976" fill="none" stroke="#f0c97f" stroke-width="1.5" stroke-linejoin="round"/>
<g fill="#f3cf8e"><circle cx="1165.4" cy="954.37" r="2.8"/><circle cx="1193.1" cy="740.97" r="2.8"/><circle cx="1220.8" cy="817.67" r="2.8"/><circle cx="1248.5" cy="921.42" r="2.8"/><circle cx="1276.2" cy="959.77" r="2.8"/><circle cx="1303.9" cy="976" r="2.8"/></g>
<polyline points="1165.4,976 1193.1,866.84 1220.8,757.69 1248.5,888.48 1276.2,943.06 1303.9,959.77 1331.6,964.69 1359.3,976 1387,976 1414.7,976 1442.4,976 1470.1,976 1497.8,976 1525.5,970.59 1553.2,976 1580.9,976 1608.6,976" fill="none" stroke="#000000" stroke-width="2.1" stroke-linejoin="round"/>
<g fill="#000000"><circle cx="1165.4" cy="976" r="2.9"/><circle cx="1193.1" cy="866.84" r="2.9"/><circle cx="1220.8" cy="757.69" r="2.9"/><circle cx="1248.5" cy="888.48" r="2.9"/><circle cx="1276.2" cy="943.06" r="2.9"/><circle cx="1303.9" cy="959.77" r="2.9"/><circle cx="1331.6" cy="964.69" r="2.9"/><circle cx="1359.3" cy="976" r="2.9"/><circle cx="1387" cy="976" r="2.9"/><circle cx="1414.7" cy="976" r="2.9"/><circle cx="1442.4" cy="976" r="2.9"/><circle cx="1470.1" cy="976" r="2.9"/><circle cx="1497.8" cy="976" r="2.9"/><circle cx="1525.5" cy="970.59" r="2.9"/><circle cx="1553.2" cy="976" r="2.9"/><circle cx="1580.9" cy="976" r="2.9"/><circle cx="1608.6" cy="976" r="2.9"/></g>
<polyline points="1165.4,966.17 1193.1,774.4 1220.8,812.26 1248.5,893.89 1276.2,954.86 1303.9,976 1331.6,970.59 1359.3,976 1387,976 1414.7,970.59 1442.4,976 1470.1,976 1497.8,976 1525.5,976 1553.2,976 1580.9,976 1608.6,976" fill="none" stroke="#828486" stroke-width="1.9" stroke-linejoin="round"/>
<g fill="#9b9c9e"><circle cx="1165.4" cy="966.17" r="3.0"/><circle cx="1193.1" cy="774.4" r="3.0"/><circle cx="1220.8" cy="812.26" r="3.0"/><circle cx="1248.5" cy="893.89" r="3.0"/><circle cx="1276.2" cy="954.86" r="3.0"/><circle cx="1303.9" cy="976" r="3.0"/><circle cx="1331.6" cy="970.59" r="3.0"/><circle cx="1359.3" cy="976" r="3.0"/><circle cx="1387" cy="976" r="3.0"/><circle cx="1414.7" cy="970.59" r="3.0"/><circle cx="1442.4" cy="976" r="3.0"/><circle cx="1470.1" cy="976" r="3.0"/><circle cx="1497.8" cy="976" r="3.0"/><circle cx="1525.5" cy="976" r="3.0"/><circle cx="1553.2" cy="976" r="3.0"/><circle cx="1580.9" cy="976" r="3.0"/><circle cx="1608.6" cy="976" r="3.0"/></g>
<path d="M1154.3,670.4H1323V985.9H1154.3ZM1164.3,680.7V976.1H1312.8V680.7Z" fill="rgba(23,123,185,0.5)" fill-rule="evenodd"/>
<g font-size="24.5"><text x="1149.6" y="983.97" text-anchor="end">0</text><text x="1149.6" y="885.83" text-anchor="end">20</text><text x="1149.6" y="787.49" text-anchor="end">40</text><text x="1149.6" y="689.15" text-anchor="end">60</text><text x="1164.7" y="1012.9" text-anchor="middle">0</text><text x="1303.2" y="1012.9" text-anchor="middle">5</text><text x="1441.7" y="1012.9" text-anchor="middle">10</text><text x="1580.2" y="1012.9" text-anchor="middle">15</text></g>
<text transform="translate(1110.6,827.6) rotate(-90)" font-size="23.57" text-anchor="middle">Number of values</text>
<text x="1378" y="1048.6" font-size="23.9" text-anchor="middle">GABA<tspan font-size="15.77" dy="8.84">A</tspan><tspan dy="-8.84">R nanocluster volume (10</tspan><tspan font-size="14.94" dy="-7.17">6</tspan><tspan dy="7.17"> nm</tspan><tspan font-size="14.94" dy="-7.17">3</tspan><tspan dy="7.17">)</tspan></text>
<g transform="translate(1407.4,692) rotate(124.1)"><rect x="30" y="-1.9" width="11" height="3.8" fill="#3d3d3d" stroke="#0c0c0c" stroke-width="1.3"/><rect x="40.2" y="-4.05" width="54" height="8.1" rx="3.2" ry="3.2" fill="#3f3f3f" stroke="#0c0c0c" stroke-width="1.5"/></g>
<circle cx="1407.4" cy="692" r="31" fill="#fff" stroke="#0c0c0c" stroke-width="1.7"/>
<path d="M1388.19,679.53 A22.9,22.9 0 0 1 1420.53,673.24" fill="none" stroke="#0c0c0c" stroke-width="1.6"/>
<line x1="1438.4" y1="688.1" x2="1609" y2="688.1" stroke="#1a1a1a" stroke-width="1.8"/>
<path d="M1623,688.1 L1602.5,679.8 L1607.5,688.1 L1602.5,696.4 Z" fill="#1a1a1a"/>
<line x1="1396.4" y1="770.2" x2="1438.4" y2="770.2" stroke="#9b9c9e" stroke-width="1.9"/>
<circle cx="1417.4" cy="770.2" r="10.2" fill="#9b9c9e"/>
<text x="1446.6" y="779.68" font-size="23.7" style="font-kerning:none">Control</text>
<line x1="1396.4" y1="811.4" x2="1438.4" y2="811.4" stroke="#000000" stroke-width="1.9"/>
<circle cx="1417.4" cy="811.4" r="10.2" fill="#000000"/>
<text x="1446.6" y="820.88" font-size="23.7" style="font-kerning:none">PTX</text>
<line x1="1396.4" y1="852.6" x2="1438.4" y2="852.6" stroke="#f2d4ad" stroke-width="1.9"/>
<circle cx="1417.4" cy="852.6" r="10.2" fill="#f2d4ad"/>
<text x="1446.6" y="862.08" font-size="23.7" style="font-kerning:none">TAT</text>
<line x1="1396.4" y1="894" x2="1438.4" y2="894" stroke="#e9a254" stroke-width="1.9"/>
<circle cx="1417.4" cy="894" r="10.2" fill="#e9a254"/>
<text x="1446.6" y="903.48" font-size="23.7" style="font-kerning:none">PTX/TAT</text>
<g stroke="#000"><line x1="1698.8" y1="680.35" x2="1698.8" y2="987.5" stroke-width="1.7"/><line x1="1686.8" y1="975.5" x2="2140.75" y2="975.5" stroke-width="1.7"/><line x1="1686.8" y1="877.4" x2="1698.8" y2="877.4" stroke-width="1.7"/><line x1="1686.8" y1="779.3" x2="1698.8" y2="779.3" stroke-width="1.7"/><line x1="1686.8" y1="681.2" x2="1698.8" y2="681.2" stroke-width="1.7"/><line x1="1787.02" y1="975.5" x2="1787.02" y2="987.5" stroke-width="1.7"/><line x1="1875.24" y1="975.5" x2="1875.24" y2="987.5" stroke-width="1.7"/><line x1="1963.46" y1="975.5" x2="1963.46" y2="987.5" stroke-width="1.7"/><line x1="2051.68" y1="975.5" x2="2051.68" y2="987.5" stroke-width="1.7"/><line x1="2139.9" y1="975.5" x2="2139.9" y2="987.5" stroke-width="1.7"/><line x1="1742.91" y1="975.5" x2="1742.91" y2="981.9" stroke-width="1.7"/><line x1="1831.13" y1="975.5" x2="1831.13" y2="981.9" stroke-width="1.7"/><line x1="1919.35" y1="975.5" x2="1919.35" y2="981.9" stroke-width="1.7"/><line x1="2007.57" y1="975.5" x2="2007.57" y2="981.9" stroke-width="1.7"/><line x1="2095.79" y1="975.5" x2="2095.79" y2="981.9" stroke-width="1.7"/></g>
<polyline points="1698.8,959.31 1787.02,779.3 1875.24,816.09 1963.46,893.59 2051.68,953.92 2139.9,964.71" fill="none" stroke="#ee8a2a" stroke-width="2.1" stroke-linejoin="round"/>
<g fill="#ee8a2a"><circle cx="1698.8" cy="959.31" r="2.9"/><circle cx="1787.02" cy="779.3" r="2.9"/><circle cx="1875.24" cy="816.09" r="2.9"/><circle cx="1963.46" cy="893.59" r="2.9"/><circle cx="2051.68" cy="953.92" r="2.9"/><circle cx="2139.9" cy="964.71" r="2.9"/></g>
<polyline points="1698.8,953.92 1787.02,741.04 1875.24,817.56 1963.46,921.05 2051.68,959.31 2139.9,975.5" fill="none" stroke="#f0c97f" stroke-width="1.5" stroke-linejoin="round"/>
<g fill="#f3cf8e"><circle cx="1698.8" cy="953.92" r="2.6"/><circle cx="1787.02" cy="741.04" r="2.6"/><circle cx="1875.24" cy="817.56" r="2.6"/><circle cx="1963.46" cy="921.05" r="2.6"/><circle cx="2051.68" cy="959.31" r="2.6"/><circle cx="2139.9" cy="975.5" r="2.6"/></g>
<polyline points="1698.8,975.5 1787.02,866.61 1875.24,757.72 1963.46,888.19 2051.68,942.64 2139.9,959.31" fill="none" stroke="#000000" stroke-width="2.1" stroke-linejoin="round"/>
<g fill="#000000"><circle cx="1698.8" cy="975.5" r="2.9"/><circle cx="1787.02" cy="866.61" r="2.9"/><circle cx="1875.24" cy="757.72" r="2.9"/><circle cx="1963.46" cy="888.19" r="2.9"/><circle cx="2051.68" cy="942.64" r="2.9"/><circle cx="2139.9" cy="959.31" r="2.9"/></g>
<polyline points="1698.8,965.69 1787.02,774.39 1875.24,812.16 1963.46,893.59 2051.68,954.41 2139.9,975.5" fill="none" stroke="#7f8388" stroke-width="1.9" stroke-linejoin="round"/>
<g fill="#9b9c9e"><circle cx="1698.8" cy="965.69" r="2.9"/><circle cx="1787.02" cy="774.39" r="2.9"/><circle cx="1875.24" cy="812.16" r="2.9"/><circle cx="1963.46" cy="893.59" r="2.9"/><circle cx="2051.68" cy="954.41" r="2.9"/><circle cx="2139.9" cy="975.5" r="2.9"/></g>
<path d="M1689.2,670.1H2153V985.8H1689.2ZM1699.6,680.3V976H2143.2V680.3Z" fill="rgba(23,123,185,0.5)" fill-rule="evenodd"/>
<g font-size="24.5"><text x="1682" y="982.57" text-anchor="end">0</text><text x="1683.2" y="885.07" text-anchor="end">20</text><text x="1683.2" y="786.97" text-anchor="end">40</text><text x="1683.2" y="688.87" text-anchor="end">60</text><text x="1698" y="1012.3" text-anchor="middle">0</text><text x="1786.22" y="1012.3" text-anchor="middle">1</text><text x="1874.44" y="1012.3" text-anchor="middle">2</text><text x="1962.66" y="1012.3" text-anchor="middle">3</text><text x="2050.88" y="1012.3" text-anchor="middle">4</text><text x="2139.1" y="1012.3" text-anchor="middle">5</text></g>
<text transform="translate(1643,832.2) rotate(-90)" font-size="23.6" text-anchor="middle">Number of values</text>
<text x="1917.3" y="1047.2" font-size="23.9" text-anchor="middle">GABA<tspan font-size="15.77" dy="8.84">A</tspan><tspan dy="-8.84">R nanocluster volume (10</tspan><tspan font-size="14.94" dy="-7.53">6</tspan><tspan dy="7.53"> nm</tspan><tspan font-size="14.94" dy="-7.53">3</tspan><tspan dy="7.53">)</tspan></text>
</svg>
</body>
</html>
